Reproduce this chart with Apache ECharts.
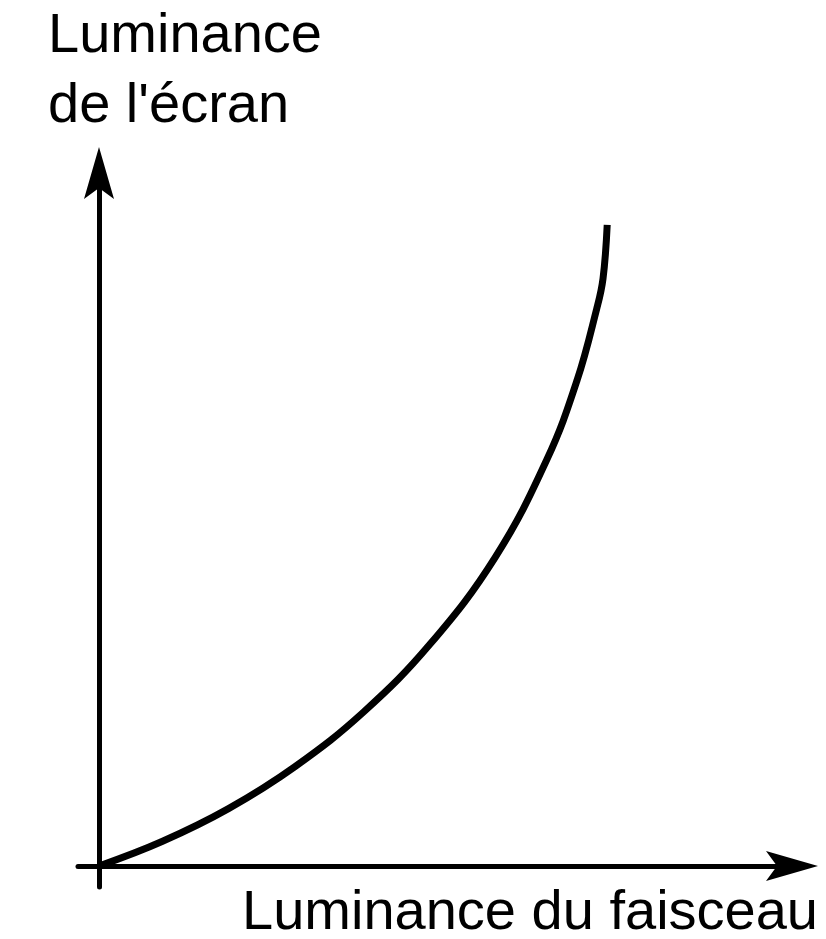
<!DOCTYPE html>
<html>
<head>
<meta charset="utf-8">
<script src="https://cdn.jsdelivr.net/npm/echarts@6/dist/echarts.min.js"></script>
<style>
html,body{margin:0;padding:0;background:#fff;}
#chart{width:826px;height:939px;}
</style>
</head>
<body>
<div id="chart"></div>
<script>
// Beam luminance (x) vs screen luminance (y), arbitrary units
var beamLuminance   = [0, 9.0, 18.5, 28.0, 37.8, 47.3, 56.6, 64.0, 68.3, 71.1, 72.0, 72.6];
var screenLuminance = [0, 3.5,  8.2, 14.2, 22.0, 31.7, 44.1, 58.1, 69.4, 79.6, 83.9, 91.6];
var yAxisTitle = "Luminance\nde l'écran";
var xAxisTitle = "Luminance du faisceau";

var curve = beamLuminance.map(function (x, i) { return [x, screenLuminance[i]]; });

var FONT = 'Liberation Sans, Arial, sans-serif';
var arrowPath = 'path://M15,0 L30,52 L15,41 L0,52 Z';

var chart = echarts.init(document.getElementById('chart'), null, {renderer: 'canvas'});
chart.setOption({
  backgroundColor: '#ffffff',
  animation: false,
  title: [
    {
      text: yAxisTitle,
      left: 48, top: 2, padding: 0,
      textStyle: {fontFamily: FONT, fontSize: 56, lineHeight: 70, fontWeight: 'normal', color: '#000'}
    },
    {
      text: xAxisTitle,
      right: 8, top: 886, padding: 0,
      textStyle: {fontFamily: FONT, fontSize: 56, lineHeight: 56, fontWeight: 'normal', color: '#000'}
    }
  ],
  grid: {left: 78, right: 34, top: 173, bottom: 52, containLabel: false},
  xAxis: {
    type: 'value', min: -3, max: 99,
    axisLine: {onZero: true, symbol: ['none', arrowPath], symbolSize: [30, 52],
      lineStyle: {color: '#000', width: 5}},
    axisTick: {show: false}, axisLabel: {show: false}, splitLine: {show: false}
  },
  yAxis: {
    type: 'value', min: -3, max: 99,
    axisLine: {onZero: true, symbol: ['none', arrowPath], symbolSize: [30, 52],
      lineStyle: {color: '#000', width: 5}},
    axisTick: {show: false}, axisLabel: {show: false}, splitLine: {show: false}
  },
  series: [{
    type: 'line',
    data: curve,
    smooth: 0.4,
    showSymbol: false,
    symbol: 'none',
    lineStyle: {color: '#000', width: 7, cap: 'butt'},
    z: 5
  }]
});
</script>
</body>
</html>
